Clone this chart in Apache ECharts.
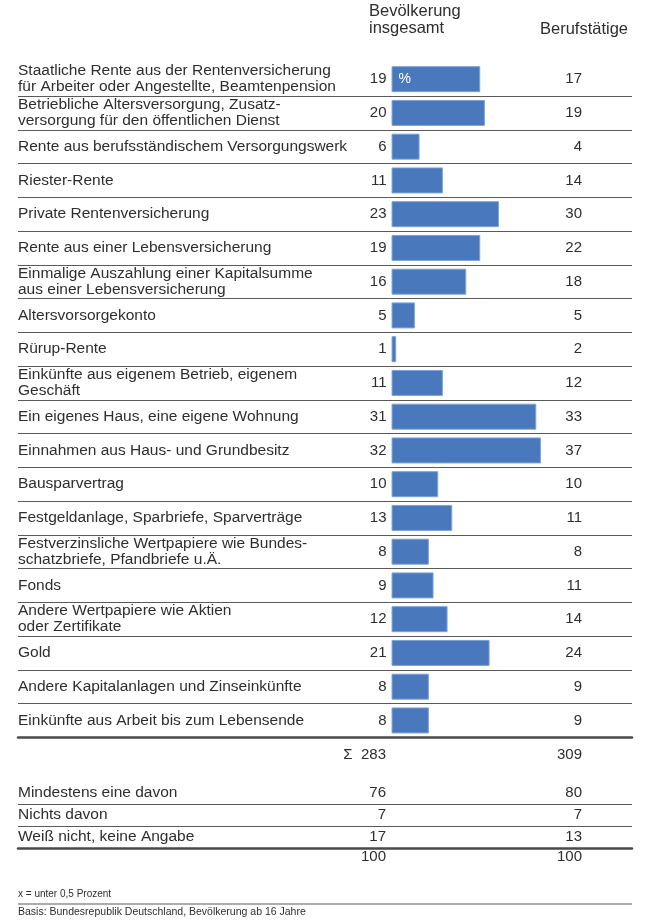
<!DOCTYPE html>
<html>
<head>
<meta charset="utf-8">
<script src="https://cdn.jsdelivr.net/npm/echarts@6/dist/echarts.min.js"></script>
<style>
html,body{margin:0;padding:0;background:#fff;}
#chart{width:664px;height:922px;}
</style>
</head>
<body>
<div id="chart"></div>
<script>
// ---------- data ----------
const categories = [
  "Staatliche Rente aus der Rentenversicherung\nfür Arbeiter oder Angestellte, Beamtenpension",
  "Betriebliche Altersversorgung, Zusatz-\nversorgung für den öffentlichen Dienst",
  "Rente aus berufsständischem Versorgungswerk",
  "Riester-Rente",
  "Private Rentenversicherung",
  "Rente aus einer Lebensversicherung",
  "Einmalige Auszahlung einer Kapitalsumme\naus einer Lebensversicherung",
  "Altersvorsorgekonto",
  "Rürup-Rente",
  "Einkünfte aus eigenem Betrieb, eigenem\nGeschäft",
  "Ein eigenes Haus, eine eigene Wohnung",
  "Einnahmen aus Haus- und Grundbesitz",
  "Bausparvertrag",
  "Festgeldanlage, Sparbriefe, Sparverträge",
  "Festverzinsliche Wertpapiere wie Bundes-\nschatzbriefe, Pfandbriefe u.Ä.",
  "Fonds",
  "Andere Wertpapiere wie Aktien\noder Zertifikate",
  "Gold",
  "Andere Kapitalanlagen und Zinseinkünfte",
  "Einkünfte aus Arbeit bis zum Lebensende"
];
const bevoelkerung = [19, 20, 6, 11, 23, 19, 16, 5, 1, 11, 31, 32, 10, 13, 8, 9, 12, 21, 8, 8];
const berufstaetige = [17, 19, 4, 14, 30, 22, 18, 5, 2, 12, 33, 37, 10, 11, 8, 11, 14, 24, 9, 9];
const sumBev = 283;
const sumBeruf = 309;
const summaryLabels = ["Mindestens eine davon", "Nichts davon", "Weiß nicht, keine Angabe"];
const summaryBev = [76, 7, 17];
const summaryBeruf = [80, 7, 13];
const totalBev = 100;
const totalBeruf = 100;
const headerBev = "Bevölkerung\ninsgesamt";
const headerBeruf = "Berufstätige";
const footnote1 = "x = unter 0,5 Prozent";
const footnote2 = "Basis: Bundesrepublik Deutschland, Bevölkerung ab 16 Jahre";

// ---------- styles ----------
const FONT = "Liberation Sans";
const TXT = "#2e2e2e";
const BAR = "#4a78bd";
const BAR_BORDER = "#7fa3d7";
const THIN = "#5a5a5a";
const THICK = "#4a4a4a";
const GL = 18, GR = 32; // grid left / right (px)
const COL1_OFF = -(632 - 386);
const COL2_OFF = -(632 - 582);

function valueColumn(gridIndex, values, offset, fmtPrefix) {
  return {
    type: "category", gridIndex: gridIndex, position: "right", offset: offset,
    inverse: true,
    data: values.map((v, i) => "r" + i),
    axisLine: {show: false}, axisTick: {show: false}, splitLine: {show: false},
    axisLabel: {
      inside: true, margin: 0, align: "right", interval: 0,
      fontFamily: FONT, fontSize: 15, color: TXT,
      formatter: (v, i) => (fmtPrefix || "") + values[i]
    }
  };
}
function nameColumn(gridIndex, names, withSplit) {
  return {
    type: "category", gridIndex: gridIndex, position: "left", inverse: true,
    data: names,
    axisLine: {show: false}, axisTick: {show: false},
    splitLine: withSplit ? {show: true, interval: 0, showMinLine: false, showMaxLine: false,
      lineStyle: {color: THIN, width: 1.2}} : {show: false},
    axisLabel: {
      inside: true, margin: 0, align: "left", interval: 0,
      fontFamily: FONT, fontSize: 15.5, lineHeight: 16, color: TXT,
      padding: [0, 0, 3, 0]
    }
  };
}
function hiddenX(gridIndex, thickBottom) {
  return {
    type: "value", gridIndex: gridIndex, min: -80, max: 51.5, position: "bottom",
    axisLine: {show: !!thickBottom, lineStyle: {color: THICK, width: 2.5}},
    axisTick: {show: false}, axisLabel: {show: false}, splitLine: {show: false}
  };
}

const chart = echarts.init(document.getElementById("chart"), null, {renderer: "canvas"});
const option = {
  animation: false,
  backgroundColor: "#fff",
  title: [
    {text: headerBev, left: 369, top: 3, padding: 0,
     textStyle: {fontFamily: FONT, fontSize: 16.5, lineHeight: 17, fontWeight: "normal", color: TXT}},
    {text: headerBeruf, left: 540, top: 21, padding: 0,
     textStyle: {fontFamily: FONT, fontSize: 16.5, fontWeight: "normal", color: TXT}},
    {text: footnote1, left: 18, top: 889, padding: 0,
     textStyle: {fontFamily: FONT, fontSize: 10, fontWeight: "normal", color: TXT}},
    {text: footnote2, left: 18, top: 907, padding: 0,
     textStyle: {fontFamily: FONT, fontSize: 10.5, fontWeight: "normal", color: TXT}}
  ],
  graphic: [
    {type: "line", shape: {x1: GL, y1: 904, x2: 664 - GR, y2: 904},
     style: {stroke: THIN, lineWidth: 1.2}}
  ],
  grid: [
    {left: GL, right: GR, top: 62.3, height: 675},   // bars
    {left: GL, right: GR, top: 737.3, height: 35.4}, // sum row
    {left: GL, right: GR, top: 782, height: 66},     // summary rows
    {left: GL, right: GR, top: 848, height: 18}      // totals
  ],
  xAxis: [hiddenX(0, true), hiddenX(1, false), hiddenX(2, true), hiddenX(3, false)],
  yAxis: [
    nameColumn(0, categories, true),
    valueColumn(0, berufstaetige, COL2_OFF),
    valueColumn(1, [sumBev], COL1_OFF, "Σ  "),
    valueColumn(1, [sumBeruf], COL2_OFF),
    nameColumn(2, summaryLabels, true),
    valueColumn(2, summaryBev, COL1_OFF),
    valueColumn(2, summaryBeruf, COL2_OFF),
    valueColumn(3, [totalBev], COL1_OFF),
    valueColumn(3, [totalBeruf], COL2_OFF)
  ],
  series: [
    {
      type: "bar", xAxisIndex: 0, yAxisIndex: 0, data: bevoelkerung, barWidth: 26,
      itemStyle: {color: BAR, borderColor: BAR_BORDER, borderWidth: 1},
      label: {show: true, position: "left", distance: 5, fontFamily: FONT, fontSize: 15, color: TXT},
      silent: true
    },
    {
      type: "bar", xAxisIndex: 0, yAxisIndex: 0, barWidth: 26, barGap: "-100%",
      data: bevoelkerung.map((v, i) => ({value: v, label: {show: i === 0}})),
      itemStyle: {color: "rgba(0,0,0,0)"},
      label: {position: "insideLeft", distance: 7, formatter: "%", fontFamily: FONT, fontSize: 14, color: "#fff"},
      silent: true
    }
  ]
};
chart.setOption(option);
</script>
</body>
</html>
